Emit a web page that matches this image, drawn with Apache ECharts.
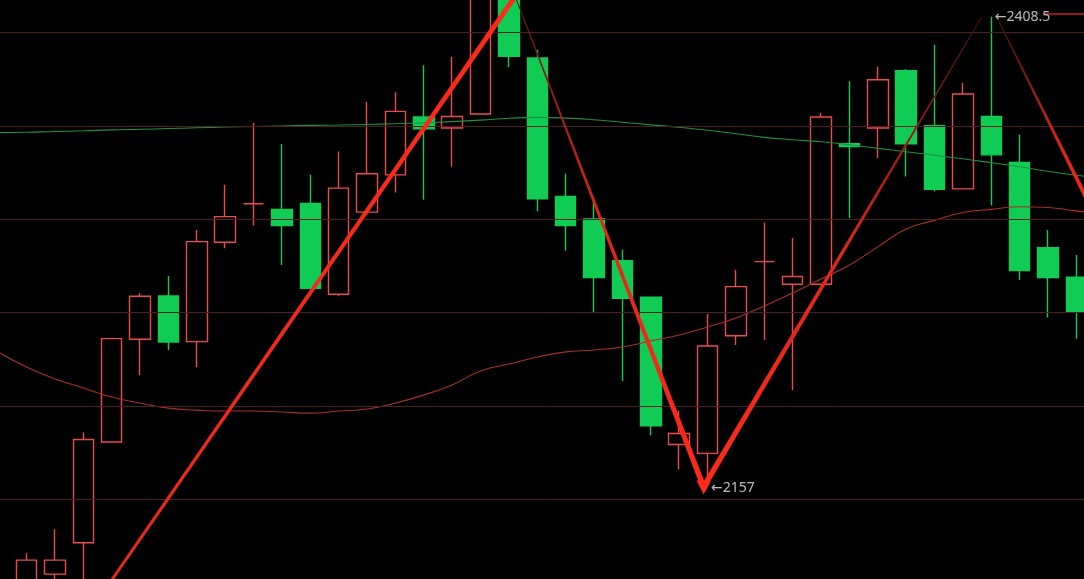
<!DOCTYPE html>
<html>
<head>
<meta charset="utf-8">
<style>
html,body{margin:0;padding:0;background:#000;overflow:hidden;width:1084px;height:579px;position:relative;}
#c{position:absolute;top:0;left:-15.56px;width:1135px;height:579px;}
</style>
<script src="https://cdn.jsdelivr.net/npm/echarts@6/dist/echarts.min.js"></script>
</head>
<body>
<div id="c"></div>
<script>
// ---- data ----
const categories = ['b0','b1','b2','b3','b4','b5','b6','b7','b8','b9','b10','b11','b12','b13','b14','b15','b16','b17','b18','b19',
  'b20','b21','b22','b23','b24','b25','b26','b27','b28','b29','b30','b31','b32','b33','b34','b35','b36','b37','b38','b39'];

// [open, close, low, high]
const ohlc = [
  ['-','-','-','-'],
  [2100.0, 2117.3, 2095.0, 2121.0],
  [2109.8, 2117.3, 2100.0, 2133.9],
  [2126.6, 2182.0, 2100.0, 2185.8],
  [2180.6, 2236.0, 2180.6, 2236.0],
  [2235.7, 2258.7, 2216.5, 2260.4],
  [2258.9, 2234.2, 2229.9, 2269.6],
  [2234.4, 2288.0, 2220.7, 2294.3],
  [2287.7, 2301.4, 2284.5, 2318.5],
  [2308.3, 2308.3, 2296.6, 2351.6],
  [2305.2, 2296.6, 2275.5, 2340.3],
  [2308.4, 2263.0, 2262.5, 2323.8],
  [2259.8, 2316.7, 2258.9, 2336.3],
  [2303.8, 2324.4, 2302.4, 2362.8],
  [2323.8, 2357.8, 2314.3, 2368.0],
  [2354.8, 2348.5, 2310.4, 2382.5],
  [2348.9, 2355.1, 2328.3, 2387.0],
  [2356.4, 2422.0, 2356.4, 2428.0],
  [2425.0, 2387.3, 2381.4, 2430.0],
  [2386.4, 2310.9, 2304.1, 2390.9],
  [2312.2, 2296.6, 2283.2, 2324.4],
  [2300.2, 2268.7, 2250.2, 2311.3],
  [2277.8, 2257.7, 2213.3, 2283.6],
  [2258.2, 2189.3, 2184.3, 2258.5],
  [2179.3, 2185.2, 2165.9, 2197.4],
  [2174.5, 2232.1, 2157.0, 2249.3],
  [2237.6, 2263.9, 2232.6, 2272.9],
  [2277.3, 2277.3, 2235.3, 2298.2],
  [2265.2, 2269.3, 2208.5, 2289.9],
  [2265.2, 2354.8, 2265.2, 2356.9],
  [2340.5, 2339.0, 2300.6, 2373.9],
  [2348.9, 2374.8, 2332.8, 2381.9],
  [2379.6, 2340.5, 2322.9, 2380.5],
  [2350.1, 2316.1, 2314.9, 2393.6],
  [2316.3, 2367.1, 2316.3, 2373.0],
  [2355.1, 2334.5, 2307.4, 2408.5],
  [2330.4, 2272.5, 2267.5, 2345.3],
  [2284.8, 2268.7, 2247.3, 2294.3],
  [2268.9, 2250.2, 2236.0, 2280.9],
  ['-','-','-','-']
];

const maShort = [2228.9, 2220.8, 2214.4, 2209.6, 2204.7, 2201.5, 2198.8, 2197.7, 2197.2, 2197.2,
  2196.7, 2196.1, 2197.2, 2198.3, 2201.5, 2205.8, 2211.2, 2218.7, 2222.4, 2226.2,
  2228.9, 2229.9, 2231.5, 2234.8, 2238.0, 2242.3, 2247.1, 2253.5, 2260.5, 2268.0,
  2275.5, 2285.2, 2294.8, 2299.4, 2303.6, 2305.3, 2306.7, 2306.3, 2304.5, 2302.9];

const maLong = [2346.4, 2346.6, 2347.0, 2347.4, 2347.9, 2348.2, 2348.6, 2349.0, 2349.4, 2349.7,
  2350.0, 2350.3, 2350.5, 2350.8, 2351.2, 2351.7, 2352.3, 2353.1, 2354.1, 2354.6,
  2354.2, 2353.3, 2352.0, 2350.6, 2349.3, 2347.7, 2345.8, 2343.9, 2342.6, 2341.5,
  2339.9, 2338.0, 2336.2, 2334.3, 2332.4, 2330.3, 2328.1, 2325.7, 2323.6, 2321.7];

const gridLevels = [2150, 2200, 2250, 2300, 2350, 2400];

// zigzag legs: [bar position start, price start, bar position end, price end]
const zigLegs = [
  [1.16, 2066.1, 17.22, 2419.5],
  [17.22, 2419.5, 23.86, 2156.5],
  [23.86, 2156.5, 33.66, 2408.4],
  [34.19, 2408.4, 37.82, 2296.9]
];
const arrowTip = [23.86, 2152.5];
const resistance = [[35.9, 2410.0], [38.5, 2410.0]];
const extremes = [[34, 2408.5], [24, 2157]];

// ---- styles ----
const BRIGHT = '#ff2a1a';
const legStyles = [
  {w0: 2.5, w1: 5, stops: [[0, '#e8281c'], [1, BRIGHT]]},
  {w0: 1, w1: 5.5, stops: [[0, '#5a1510'], [0.45, '#e0261a'], [1, BRIGHT]]},
  {w0: 5.5, w1: 0.8, stops: [[0, BRIGHT], [0.5, '#e0261a'], [1, '#4a120c']]},
  {w0: 0.8, w1: 4.5, stops: [[0, '#4a120c'], [0.6, '#d8241a'], [1, BRIGHT]]}
];

function renderLeg(params, api) {
  const a = api.coord([api.value(0), api.value(1)]);
  const b = api.coord([api.value(2), api.value(3)]);
  const st = legStyles[params.dataIndex];
  const dx = b[0] - a[0], dy = b[1] - a[1], L = Math.hypot(dx, dy);
  const nx = -dy / L, ny = dx / L;
  const h0 = st.w0 / 2, h1 = st.w1 / 2;
  const pts = [
    [a[0] + nx * h0, a[1] + ny * h0],
    [b[0] + nx * h1, b[1] + ny * h1],
    [b[0] - nx * h1, b[1] - ny * h1],
    [a[0] - nx * h0, a[1] - ny * h0]
  ];
  return {
    type: 'polygon',
    shape: {points: pts},
    style: {
      fill: new echarts.graphic.LinearGradient(a[0], a[1], b[0], b[1],
        st.stops.map(s => ({offset: s[0], color: s[1]})), true)
    }
  };
}

function renderArrow(params, api) {
  const t = api.coord([api.value(0), api.value(1)]);
  return {
    type: 'polygon',
    shape: {points: [[t[0], t[1]], [t[0] - 7, t[1] - 14], [t[0] + 7, t[1] - 13]]},
    style: {fill: BRIGHT}
  };
}

const chart = echarts.init(document.getElementById('c'), null, {renderer: 'canvas'});
chart.setOption({
  backgroundColor: '#000',
  animation: false,
  grid: {left: 0, right: 0, top: 0, bottom: 0},
  xAxis: [
    {type: 'category', data: categories, show: false, boundaryGap: true},
    {type: 'value', min: -1.5, max: 38.5, show: false}
  ],
  yAxis: {type: 'value', min: 2107.2, max: 2417.5, show: false},
  series: [
    {
      type: 'line', data: [], z: 1, silent: true,
      markLine: {
        silent: true, symbol: ['none', 'none'], label: {show: false},
        lineStyle: {color: '#4e1f1f', type: 'solid', width: 1},
        emphasis: {disabled: true},
        data: gridLevels.map(v => ({yAxis: v}))
      }
    },
    {
      type: 'candlestick', data: ohlc, z: 2, barWidth: 21, silent: true,
      itemStyle: {
        color: 'transparent', color0: '#10cc55',
        borderColor: '#e84c4c', borderColor0: '#10cc55',
        borderColorDoji: '#e84c4c', borderWidth: 1.4
      }
    },
    {
      type: 'line', data: maShort, z: 3, symbol: 'none', smooth: true, silent: true,
      lineStyle: {color: '#aa2e2a', width: 1.1}
    },
    {
      type: 'line', data: maLong, z: 3, symbol: 'none', smooth: true, silent: true,
      lineStyle: {color: '#1f9040', width: 1.1}
    },
    {
      type: 'line', xAxisIndex: 1, data: resistance, z: 4, symbol: 'none', silent: true,
      lineStyle: {color: '#8e1a18', width: 2}
    },
    {
      type: 'custom', xAxisIndex: 1, z: 5, silent: true, clip: false,
      renderItem: renderLeg, data: zigLegs
    },
    {
      type: 'custom', xAxisIndex: 1, z: 5, silent: true, clip: false,
      renderItem: renderArrow, data: [arrowTip]
    },
    {
      type: 'scatter', xAxisIndex: 1, z: 6, symbolSize: 1, silent: true,
      itemStyle: {color: 'transparent'},
      label: {
        show: true, position: 'right', distance: 3,
        color: '#e6e6e6', fontSize: 14, fontFamily: 'Noto Sans, DejaVu Sans, sans-serif',
        formatter: p => '\u2190' + p.value[1]
      },
      data: [
        {value: extremes[0]},
        {value: extremes[1], label: {offset: [0, 2]}}
      ]
    }
  ]
});
</script>
</body>
</html>
